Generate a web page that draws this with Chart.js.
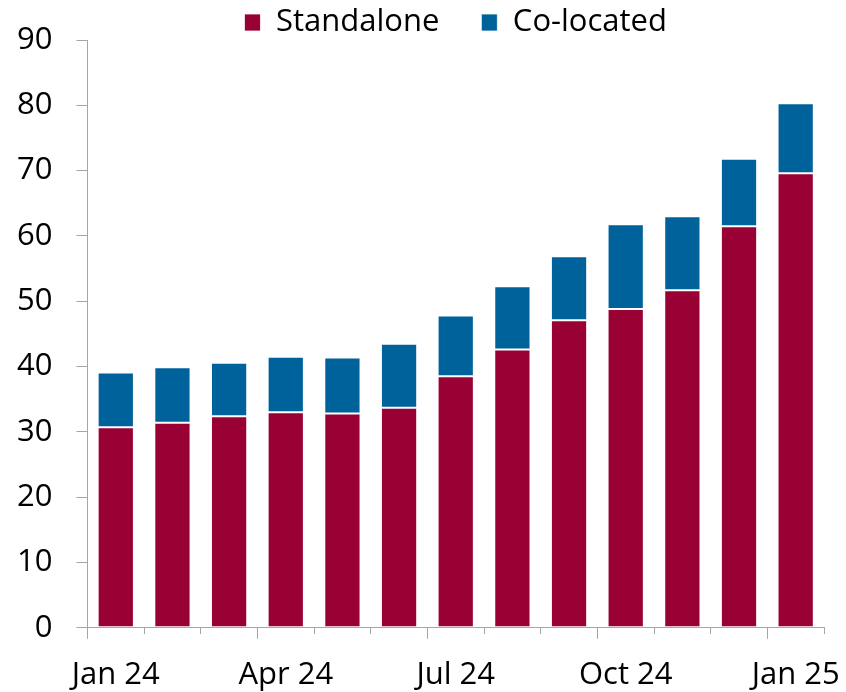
<!DOCTYPE html>
<html>
<head>
<meta charset="utf-8">
<script src="https://cdn.jsdelivr.net/npm/chart.js@4.4.1/dist/chart.umd.min.js"></script>
<style>
  html, body { margin: 0; padding: 0; background: #fff; }
  #wrap { width: 846px; height: 692px; }
</style>
</head>
<body>
<div id="wrap"><canvas id="myChart" width="846" height="692"></canvas></div>
<script>
const months = [
  "Jan 24", "Feb 24", "Mar 24", "Apr 24", "May 24", "Jun 24", "Jul 24",
  "Aug 24", "Sep 24", "Oct 24", "Nov 24", "Dec 24", "Jan 25",
];
const standalone = [30.7, 31.4, 32.4, 33.0, 32.8, 33.7, 38.5, 42.6, 47.1, 48.8, 51.7, 61.5, 69.6];
const colocated = [8.4, 8.5, 8.2, 8.5, 8.6, 9.8, 9.3, 9.7, 9.8, 13.0, 11.3, 10.3, 10.7];
const yTicks = [0, 10, 20, 30, 40, 50, 60, 70, 80, 90];

const axisGrey = "#a6a6a6";
const font = { family: "'Open Sans', 'Noto Sans', sans-serif", size: 31 };

Chart.defaults.font.family = font.family;
Chart.defaults.color = "#000";

const ctx = document.getElementById("myChart").getContext("2d");

const myChart = new Chart(ctx, {
  type: "bar",
  data: {
    labels: months,
    datasets: [
      {
        label: "Standalone",
        data: standalone,
        backgroundColor: "#990033",
        borderColor: "rgba(255, 255, 255, 0.75)",
        borderWidth: 1,
        borderSkipped: false,
      },
      {
        label: "Co-located",
        data: colocated,
        backgroundColor: "#00629b",
        borderColor: "rgba(255, 255, 255, 0.75)",
        borderWidth: 1,
        borderSkipped: false,
      },
    ],
  },
  options: {
    responsive: false,
    animation: false,
    layout: {
      padding: { top: -35, left: -7, right: 22, bottom: -20 },
    },
    datasets: {
      bar: {
        categoryPercentage: 1,
        barPercentage: 0.64,
      },
    },
    scales: {
      x: {
        stacked: true,
        offset: true,
        border: { color: axisGrey, width: 1 },
        grid: {
          offset: true,
          drawOnChartArea: false,
          tickLength: 11,
          color: axisGrey,
          tickColor: axisGrey,
          // quarter starts get the full-length tick, other months a short one
          tickBorderDash: (c) => (c.index !== undefined && c.index % 3 === 0 ? [] : [6, 30]),
        },
        afterFit: function (scale) {
          // end labels sit inside the layout padding, no extra overflow room
          scale.paddingLeft = 0;
          scale.paddingRight = 0;
        },
        ticks: {
          autoSkip: false,
          maxRotation: 0,
          padding: 18,
          font: font,
          color: "#000",
          callback: function (value, index) {
            return index % 3 === 0 ? months[index] : "";
          },
        },
      },
      y: {
        stacked: true,
        min: 0,
        max: 90,
        border: { color: axisGrey, width: 1 },
        grid: {
          drawOnChartArea: false,
          tickLength: 11,
          color: axisGrey,
          tickColor: axisGrey,
        },
        afterBuildTicks: function (scale) {
          scale.ticks = yTicks.map((v) => ({ value: v }));
        },
        afterFit: function (scale) {
          // top label may reach up beside the legend
          scale.paddingTop = 0;
          scale.paddingBottom = 0;
        },
        ticks: {
          padding: 24,
          font: font,
          color: "#000",
        },
      },
    },
    plugins: {
      legend: {
        position: "top",
        fullSize: false,
        maxHeight: 75,
        labels: {
          boxWidth: 16,
          boxHeight: 17,
          padding: 42,
          color: "#000",
          font: font,
        },
      },
      tooltip: { enabled: false },
    },
  },
});
</script>
</body>
</html>
